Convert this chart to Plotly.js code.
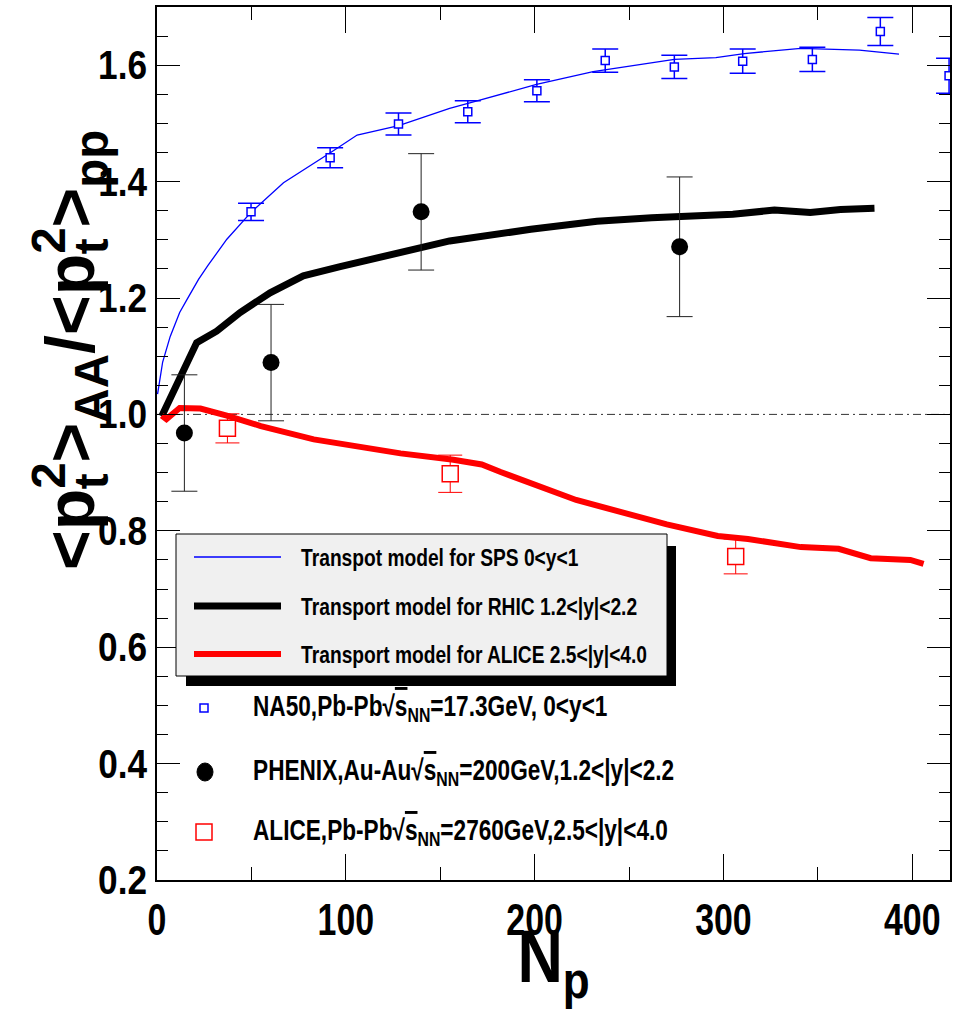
<!DOCTYPE html>
<html>
<head>
<meta charset="utf-8">
<script src="https://cdn.plot.ly/plotly-3.0.1.min.js"></script>
<style>html,body{margin:0;padding:0;background:#fff;}</style>
</head>
<body>
<div id="chart" style="width:960px;height:1010px;"></div>
<script>
// ---- Data ----
// Transport model curves
const spsModelX = [0.3, 3, 7, 12, 16, 22, 27, 37, 50, 67, 92, 106, 128, 155, 170, 201, 231, 274, 296, 311, 341, 372, 393];
const spsModelY = [1.035, 1.09, 1.134, 1.175, 1.198, 1.232, 1.256, 1.301, 1.348, 1.398, 1.450, 1.480, 1.496, 1.526, 1.539, 1.567, 1.589, 1.610, 1.613, 1.620, 1.629, 1.626, 1.619];

const rhicModelX = [2.5, 21, 31.6, 44, 59.9, 77.5, 97, 120, 155, 198, 233, 262, 305, 327, 346, 362, 380];
const rhicModelY = [0.997, 1.123, 1.143, 1.175, 1.209, 1.238, 1.254, 1.272, 1.298, 1.318, 1.332, 1.338, 1.344, 1.351, 1.347, 1.352, 1.354];

const aliceModelX = [2.5, 5, 12, 23, 37, 55, 83, 108, 129, 157, 172, 182, 222, 270, 297, 313, 341, 361, 378, 399, 406];
const aliceModelY = [0.998, 0.992, 1.011, 1.010, 0.998, 0.980, 0.957, 0.943, 0.933, 0.922, 0.914, 0.901, 0.853, 0.811, 0.791, 0.786, 0.772, 0.769, 0.753, 0.750, 0.743];

// Measurements
const na50X = [49.8, 91.7, 127.9, 164.6, 201.2, 237.4, 274.0, 310.2, 347.1, 383.1, 419.5];
const na50Y = [1.348, 1.441, 1.499, 1.520, 1.556, 1.608, 1.597, 1.607, 1.610, 1.658, 1.582];
const na50Err = [0.015, 0.017, 0.019, 0.019, 0.019, 0.020, 0.020, 0.021, 0.021, 0.024, 0.030];

const phenixX = [14.5, 60.4, 139.9, 276.8];
const phenixY = [0.968, 1.089, 1.348, 1.288];
const phenixErr = [0.10, 0.10, 0.10, 0.12];

const aliceX = [37.3, 155.3, 306.5];
const aliceY = [0.976, 0.898, 0.756];
const aliceErr = [0.025, 0.032, 0.030];

// Labels
const modelLabels = [
  "Transpot model for SPS 0&lt;y&lt;1",
  "Transport model for RHIC 1.2&lt;|y|&lt;2.2",
  "Transport model for ALICE 2.5&lt;|y|&lt;4.0"
];
const dataLabels = [
  "NA50,Pb-Pb√<span style='text-decoration:overline'>s</span><sub>NN</sub>=17.3GeV, 0&lt;y&lt;1",
  "PHENIX,Au-Au√<span style='text-decoration:overline'>s</span><sub>NN</sub>=200GeV,1.2&lt;|y|&lt;2.2",
  "ALICE,Pb-Pb√<span style='text-decoration:overline'>s</span><sub>NN</sub>=2760GeV,2.5&lt;|y|&lt;4.0"
];
const xTitle = "N<sub>p</sub>";
const stackPt = "<sup><span style='letter-spacing:-27px'>2</span></sup><sub><span style='letter-spacing:11px'>t</span></sub>";
const yTitle = "&lt;p" + stackPt + "&gt;<sub>AA</sub>/&lt;p" + stackPt + "&gt;<sub>pp</sub>";

// ---- Layout helpers (pixel -> paper) ----
const L = 157, R = 950, T = 7, B = 880;
const xp = px => (px - L) / (R - L);
const yp = py => (B - py) / (B - T);

const FONT = "'Liberation Sans', Arial, Helvetica, sans-serif";

const traces = [
  {x: spsModelX, y: spsModelY, mode: 'lines', line: {color: '#0000ff', width: 1.3}, hoverinfo: 'skip'},
  {x: rhicModelX, y: rhicModelY, mode: 'lines', line: {color: '#000000', width: 7}, hoverinfo: 'skip'},
  {x: aliceModelX, y: aliceModelY, mode: 'lines', line: {color: '#ff0000', width: 6}, hoverinfo: 'skip'},
  {x: na50X, y: na50Y, mode: 'markers',
   marker: {symbol: 'square', size: 8, color: '#ffffff', line: {color: '#0000ff', width: 1.5}},
   error_y: {type: 'data', array: na50Err, visible: true, color: '#0000ff', thickness: 1.5, width: 13}},
  {x: phenixX, y: phenixY, mode: 'markers',
   marker: {symbol: 'circle', size: 17, color: '#000000'},
   error_y: {type: 'data', array: phenixErr, visible: true, color: '#222222', thickness: 1, width: 13}},
  {x: aliceX, y: aliceY, mode: 'markers',
   marker: {symbol: 'square', size: 16, color: '#ffffff', line: {color: '#ff0000', width: 1.5}},
   error_y: {type: 'data', array: aliceErr, visible: true, color: '#ff0000', thickness: 1, width: 12}}
];

const shapes = [
  {type: 'line', xref: 'x', yref: 'y', x0: 0, x1: 420, y0: 1.0, y1: 1.0,
   line: {color: '#333333', width: 1, dash: '8px,4px,2px,4px'}, layer: 'below'},
  {type: 'rect', xref: 'paper', yref: 'paper', x0: xp(186), x1: xp(676), y0: yp(686), y1: yp(546),
   fillcolor: '#000000', line: {width: 0}, layer: 'above'},
  {type: 'rect', xref: 'paper', yref: 'paper', x0: xp(176), x1: xp(667), y0: yp(676), y1: yp(534),
   fillcolor: '#f0f0f0', line: {color: '#000000', width: 1}, layer: 'above'},
  {type: 'line', xref: 'paper', yref: 'paper', x0: xp(194), x1: xp(281), y0: yp(557), y1: yp(557),
   line: {color: '#0000ff', width: 1.3}, layer: 'above'},
  {type: 'line', xref: 'paper', yref: 'paper', x0: xp(194), x1: xp(281), y0: yp(606), y1: yp(606),
   line: {color: '#000000', width: 7}, layer: 'above'},
  {type: 'line', xref: 'paper', yref: 'paper', x0: xp(194), x1: xp(281), y0: yp(654), y1: yp(654),
   line: {color: '#ff0000', width: 6}, layer: 'above'},
  {type: 'rect', xref: 'paper', yref: 'paper', x0: xp(200), x1: xp(208), y0: yp(712), y1: yp(704),
   fillcolor: '#ffffff', line: {color: '#0000ff', width: 1.5}, layer: 'above'},
  {type: 'circle', xref: 'paper', yref: 'paper', x0: xp(197), x1: xp(213), y0: yp(781), y1: yp(763),
   fillcolor: '#000000', line: {color: '#000000', width: 1}, layer: 'above'},
  {type: 'rect', xref: 'paper', yref: 'paper', x0: xp(196), x1: xp(212), y0: yp(840), y1: yp(824),
   fillcolor: '#ffffff', line: {color: '#ff0000', width: 1.5}, layer: 'above'}
];

const annotations = [];
const condense = [];
[557, 606, 654].forEach((py, i) => {
  annotations.push({
    xref: 'paper', yref: 'paper', x: xp(299), y: yp(py), xanchor: 'left', yanchor: 'middle',
    text: modelLabels[i], showarrow: false, font: {family: FONT, size: 24, weight: 700, color: '#000'}
  });
  condense.push([0.8, 'left']);
});
[708, 772, 832].forEach((py, i) => {
  annotations.push({
    xref: 'paper', yref: 'paper', x: xp(251), y: yp(py), xanchor: 'left', yanchor: 'middle',
    text: dataLabels[i], showarrow: false, font: {family: FONT, size: 29, weight: 700, color: '#000'}
  });
  condense.push([0.78, 'left']);
});
annotations.push({
  xref: 'paper', yref: 'paper', x: xp(75), y: yp(128), xanchor: 'center', yanchor: 'top',
  textangle: -90, text: yTitle, showarrow: false, font: {family: FONT, size: 68, weight: 700, color: '#000'}
});
condense.push([1.0, 'center']);
annotations.push({
  xref: 'paper', yref: 'paper', x: xp(553), y: yp(962), xanchor: 'center', yanchor: 'middle',
  text: xTitle, showarrow: false, font: {family: FONT, size: 74, weight: 700, color: '#000'}
});
condense.push([0.85, 'center']);

const layout = {
  width: 960, height: 1010,
  margin: {l: L, r: 960 - R, t: T, b: 1010 - B, pad: 0},
  paper_bgcolor: '#ffffff', plot_bgcolor: '#ffffff',
  showlegend: false,
  xaxis: {
    range: [0, 420], tickmode: 'linear', tick0: 0, dtick: 100,
    ticks: 'inside', ticklen: 26, tickwidth: 1, tickcolor: '#000',
    showline: true, linewidth: 2, linecolor: '#000', mirror: 'ticks',
    showgrid: false, zeroline: false,
    minor: {dtick: 50, ticks: 'inside', ticklen: 13, tickwidth: 1, tickcolor: '#000', showgrid: false},
    tickfont: {family: FONT, size: 44, weight: 700, color: '#000'}
  },
  yaxis: {
    range: [0.2, 1.7], tickmode: 'linear', tick0: 0.2, dtick: 0.2, tickformat: '.1f',
    ticks: 'inside', ticklen: 23, tickwidth: 1, tickcolor: '#000',
    showline: true, linewidth: 2, linecolor: '#000', mirror: 'ticks',
    showgrid: false, zeroline: false,
    minor: {dtick: 0.05, ticks: 'inside', ticklen: 11, tickwidth: 1, tickcolor: '#000', showgrid: false},
    tickfont: {family: FONT, size: 40, weight: 700, color: '#000'}
  },
  shapes: shapes,
  annotations: annotations
};

function squeeze(el, s, mode) {
  if (s === 1) return;
  const bb = el.getBBox();
  const ax = mode === 'left' ? bb.x : (mode === 'right' ? bb.x + bb.width : bb.x + bb.width / 2);
  const prev = el.getAttribute('transform') || '';
  el.setAttribute('transform', prev + ' translate(' + ax + ',0) scale(' + s + ',1) translate(' + (-ax) + ',0)');
}

Plotly.newPlot('chart', traces, layout, {displayModeBar: false, staticPlot: true}).then(gd => {
  gd.querySelectorAll('.xtick text').forEach(t => squeeze(t, 0.77, 'center'));
  gd.querySelectorAll('.ytick text').forEach(t => squeeze(t, 0.88, 'right'));
  gd.querySelectorAll('.annotation').forEach(g => {
    const idx = +g.getAttribute('data-index');
    const t = g.querySelector('text.annotation-text');
    if (t && condense[idx]) squeeze(t, condense[idx][0], condense[idx][1]);
  });
});
</script>
</body>
</html>
